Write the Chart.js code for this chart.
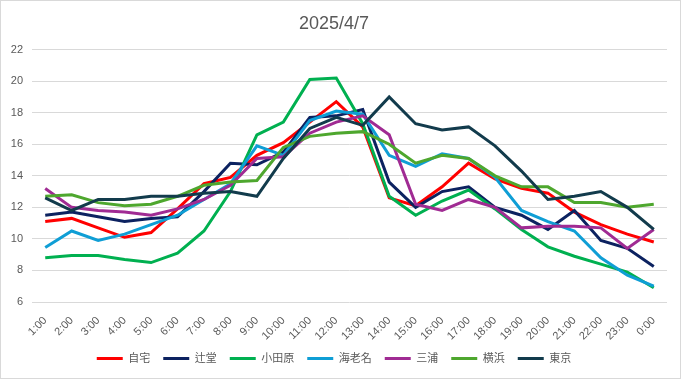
<!DOCTYPE html>
<html>
<head>
<meta charset="utf-8">
<script src="https://cdn.jsdelivr.net/npm/chart.js@4/dist/chart.umd.min.js"></script>
<style>
  body { margin: 0; background: #fff; }
  #wrap { width: 681px; height: 379px; box-sizing: border-box; border: 1px solid #d9d9d9; }
</style>
</head>
<body>
<div id="wrap"><canvas id="grafico"></canvas></div>
<script>
const horas = ['1:00','2:00','3:00','4:00','5:00','6:00','7:00','8:00','9:00','10:00','11:00','12:00',
  '13:00','14:00','15:00','16:00','17:00','18:00','19:00','20:00','21:00','22:00','23:00','0:00'];

const jitaku   = [11.1, 11.3, 10.7, 10.1, 10.4, 11.9, 13.5, 13.9, 15.3, 16.1, 17.4, 18.7, 17.1, 12.6, 12.1, 13.3, 14.8, 13.8, 13.2, 12.9, 11.7, 10.9, 10.3, 9.8];
const tsujido  = [11.5, 11.7, 11.4, 11.1, 11.3, 11.4, 13.0, 14.8, 14.7, 15.5, 17.7, 17.8, 18.2, 13.6, 12.0, 13.0, 13.3, 12.0, 11.5, 10.6, 11.8, 9.9, 9.4, 8.25];
const odawara  = [8.8, 8.95, 8.95, 8.7, 8.5, 9.1, 10.5, 13.0, 16.6, 17.4, 20.1, 20.2, 17.3, 12.7, 11.5, 12.4, 13.1, 11.9, 10.6, 9.5, 8.9, 8.4, 7.9, 6.9];
const ebina    = [9.45, 10.5, 9.9, 10.3, 10.9, 11.5, 12.5, 13.5, 15.9, 15.3, 17.5, 18.1, 17.9, 15.3, 14.6, 15.4, 15.1, 13.9, 11.8, 11.1, 10.5, 8.8, 7.7, 7.0];
const miura    = [13.2, 12.0, 11.8, 11.7, 11.5, 11.9, 12.5, 13.4, 15.1, 15.2, 16.7, 17.4, 17.8, 16.6, 12.2, 11.8, 12.5, 12.0, 10.7, 10.8, 10.8, 10.7, 9.4, 10.6];
const yokohama = [12.7, 12.8, 12.3, 12.1, 12.2, 12.7, 13.4, 13.6, 13.7, 15.8, 16.5, 16.7, 16.8, 16.0, 14.8, 15.3, 15.1, 14.0, 13.3, 13.3, 12.3, 12.3, 12.0, 12.2];
const tokyo    = [12.6, 11.8, 12.5, 12.5, 12.7, 12.7, 12.9, 13.0, 12.7, 15.1, 17.0, 17.7, 17.2, 19.0, 17.3, 16.9, 17.1, 15.9, 14.3, 12.5, 12.7, 13.0, 12.0, 10.6];

const series = [
  { nome: '自宅', dados: jitaku, cor: '#ff0000' },
  { nome: '辻堂', dados: tsujido, cor: '#0c2260' },
  { nome: '小田原', dados: odawara, cor: '#00b050' },
  { nome: '海老名', dados: ebina, cor: '#0f9ed5' },
  { nome: '三浦', dados: miura, cor: '#a02b93' },
  { nome: '横浜', dados: yokohama, cor: '#4ea72e' },
  { nome: '東京', dados: tokyo, cor: '#123b4c' }
];

const fonte = "'Liberation Sans', Arial, 'Noto Sans CJK JP', sans-serif";
const cinza = '#595959';

new Chart(document.getElementById('grafico').getContext('2d'), {
  type: 'line',
  data: {
    labels: horas,
    datasets: series.map((s, i) => ({
      label: s.nome,
      data: s.dados,
      borderColor: s.cor,
      backgroundColor: s.cor,
      borderWidth: 3,
      pointRadius: 0,
      tension: 0,
      order: 10 - i
    }))
  },
  options: {
    responsive: true,
    maintainAspectRatio: false,
    animation: false,
    layout: { padding: { left: 0, right: 13, top: 0, bottom: 4 } },
    scales: {
      x: {
        offset: true,
        grid: { display: false },
        border: { display: false },
        ticks: {
          autoSkip: false,
          minRotation: 45,
          maxRotation: 45,
          color: cinza,
          font: { family: fonte, size: 11 },
          padding: 4
        },
        afterFit: (s) => { s.height = 38; }
      },
      y: {
        min: 6,
        max: 22,
        ticks: { stepSize: 2, color: cinza, font: { family: fonte, size: 11 }, padding: 9 },
        grid: { color: '#d9d9d9', lineWidth: 1, drawTicks: false },
        border: { display: false },
        afterFit: (s) => { s.width = 31; }
      }
    },
    plugins: {
      title: {
        display: true,
        text: '2025/4/7',
        color: cinza,
        font: { family: fonte, size: 18, weight: 'normal' },
        padding: { top: 12, bottom: 15 }
      },
      legend: {
        position: 'bottom',
        labels: {
          boxWidth: 26,
          boxHeight: 3,
          padding: 13,
          color: cinza,
          font: { family: fonte, size: 11 },
          sort: (a, b) => a.datasetIndex - b.datasetIndex,
          generateLabels: (chart) => chart.data.datasets.map((d, i) => ({
            text: d.label,
            fillStyle: d.borderColor,
            strokeStyle: d.borderColor,
            lineWidth: 0,
            fontColor: cinza,
            hidden: false,
            datasetIndex: i
          }))
        }
      },
      tooltip: { enabled: false }
    }
  }
});
</script>
</body>
</html>
